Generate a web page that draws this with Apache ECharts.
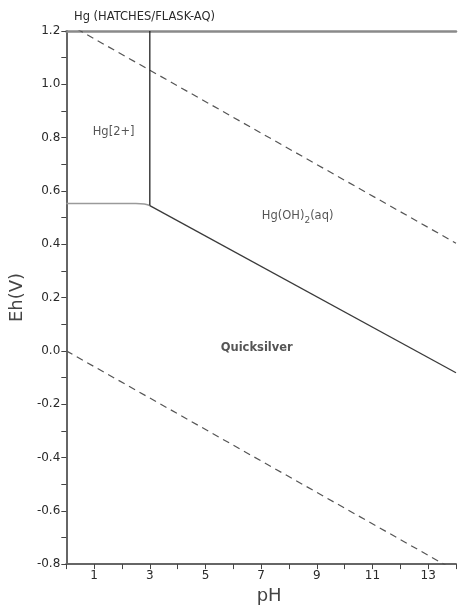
<!DOCTYPE html>
<html>
<head>
<meta charset="utf-8">
<script src="https://cdn.jsdelivr.net/npm/echarts@6/dist/echarts.min.js"></script>
<style>html,body{margin:0;padding:0;background:#fff}#c{width:459px;height:610px}</style>
</head>
<body>
<div id="c"></div>
<script>
// Data (pH, Eh in V)
var titleText = 'Hg (HATCHES/FLASK-AQ)';
var upperWater = [[0, 1.23], [14, 0.404]];          // O2/H2O dashed
var lowerWater = [[0, 0.0], [14, -0.826]];          // H2O/H2 dashed
var hgFlat = [[0, 0.553], [2.5, 0.553], [2.8, 0.551], [3.0, 0.545]];
var hgSlope = [[3.0, 0.545], [14, -0.082]];
var hgVertical = [[3.0, 0.545], [3.0, 1.2]];
var regionLabels = [
  {name: 'Hg[2+]', value: [1.70, 0.822], bold: false},
  {name: 'Hg(OH){sub|2}(aq)', value: [8.31, 0.505], bold: false},
  {name: 'Quicksilver', value: [6.84, 0.010], bold: true}
];
var xTickLabels = ['1', '3', '5', '7', '9', '11', '13'];

var FONT = 'DejaVu Sans';
var TXT = '#2a2a2a';
var chart = echarts.init(document.getElementById('c'));
chart.setOption({
  backgroundColor: '#fff',
  animation: false,
  title: {
    text: titleText, left: 74, top: 11, padding: 0,
    textStyle: {fontFamily: FONT, fontSize: 11.5, fontWeight: 'normal', color: TXT}
  },
  grid: {left: 63, right: -5, top: 31, bottom: 41, containLabel: false},
  xAxis: [{
    type: 'value', min: 0, max: 14, interval: 1, position: 'bottom',
    name: 'pH', nameLocation: 'middle', nameGap: 18,
    nameTextStyle: {fontFamily: FONT, fontSize: 18, color: '#444', padding: [0, 0, 0, 16]},
    axisLine: {show: true, onZero: false, lineStyle: {color: '#666', width: 2}},
    axisTick: {show: true, inside: false, length: 5, lineStyle: {color: '#444', width: 1}},
    axisLabel: {
      fontFamily: FONT, fontSize: 12, color: TXT, margin: 6,
      formatter: function (v) { return xTickLabels.indexOf(String(v)) >= 0 ? String(v) : ''; }
    },
    splitLine: {show: false}
  }, {
    type: 'value', min: 0, max: 14, position: 'top',
    axisLine: {show: true, onZero: false, lineStyle: {color: '#8a8a8a', width: 2.5}},
    axisTick: {show: false}, axisLabel: {show: false}, splitLine: {show: false}
  }],
  yAxis: {
    type: 'value', min: -0.8, max: 1.2, interval: 0.2,
    name: 'Eh(V)', nameLocation: 'middle', nameGap: 40,
    nameTextStyle: {fontFamily: FONT, fontSize: 18, color: '#444'},
    axisLine: {show: true, onZero: false, lineStyle: {color: '#666', width: 2}},
    axisTick: {show: true, length: 5, lineStyle: {color: '#444', width: 1}},
    minorTick: {show: true, splitNumber: 2, length: 5, lineStyle: {color: '#444', width: 1}},
    axisLabel: {
      fontFamily: FONT, fontSize: 12, color: TXT, margin: 6,
      formatter: function (v) { return (Math.abs(v) < 1e-9 ? 0 : v).toFixed(1); }
    },
    splitLine: {show: false}
  },
  series: [
    {type: 'line', data: upperWater, symbol: 'none', clip: true,
     lineStyle: {color: '#555', width: 1.2, type: [7, 5]}},
    {type: 'line', data: lowerWater, symbol: 'none', clip: true,
     lineStyle: {color: '#555', width: 1.2, type: [7, 5]}},
    {type: 'line', data: hgFlat, symbol: 'none', smooth: 0.3,
     lineStyle: {color: '#9a9a9a', width: 1.6}},
    {type: 'line', data: hgSlope, symbol: 'none',
     lineStyle: {color: '#3a3a3a', width: 1.3}},
    {type: 'line', data: hgVertical, symbol: 'none',
     lineStyle: {color: '#222', width: 1.3}},
    {type: 'scatter', symbolSize: 0, silent: true, itemStyle: {color: '#fff'},
     data: regionLabels.map(function (d) {
       return {value: d.value, name: d.name,
               label: {fontWeight: d.bold ? 'bold' : 'normal', color: TXT}};
     }),
     label: {
       show: true, position: 'inside', fontFamily: FONT, fontSize: 11.5, color: TXT,
       textBorderWidth: 0,
       formatter: function (p) { return p.name; },
       rich: {sub: {fontFamily: FONT, fontSize: 9, color: TXT, verticalAlign: 'bottom', padding: [8, 0, 0, 0]}}
     }}
  ]
});
</script>
</body>
</html>
